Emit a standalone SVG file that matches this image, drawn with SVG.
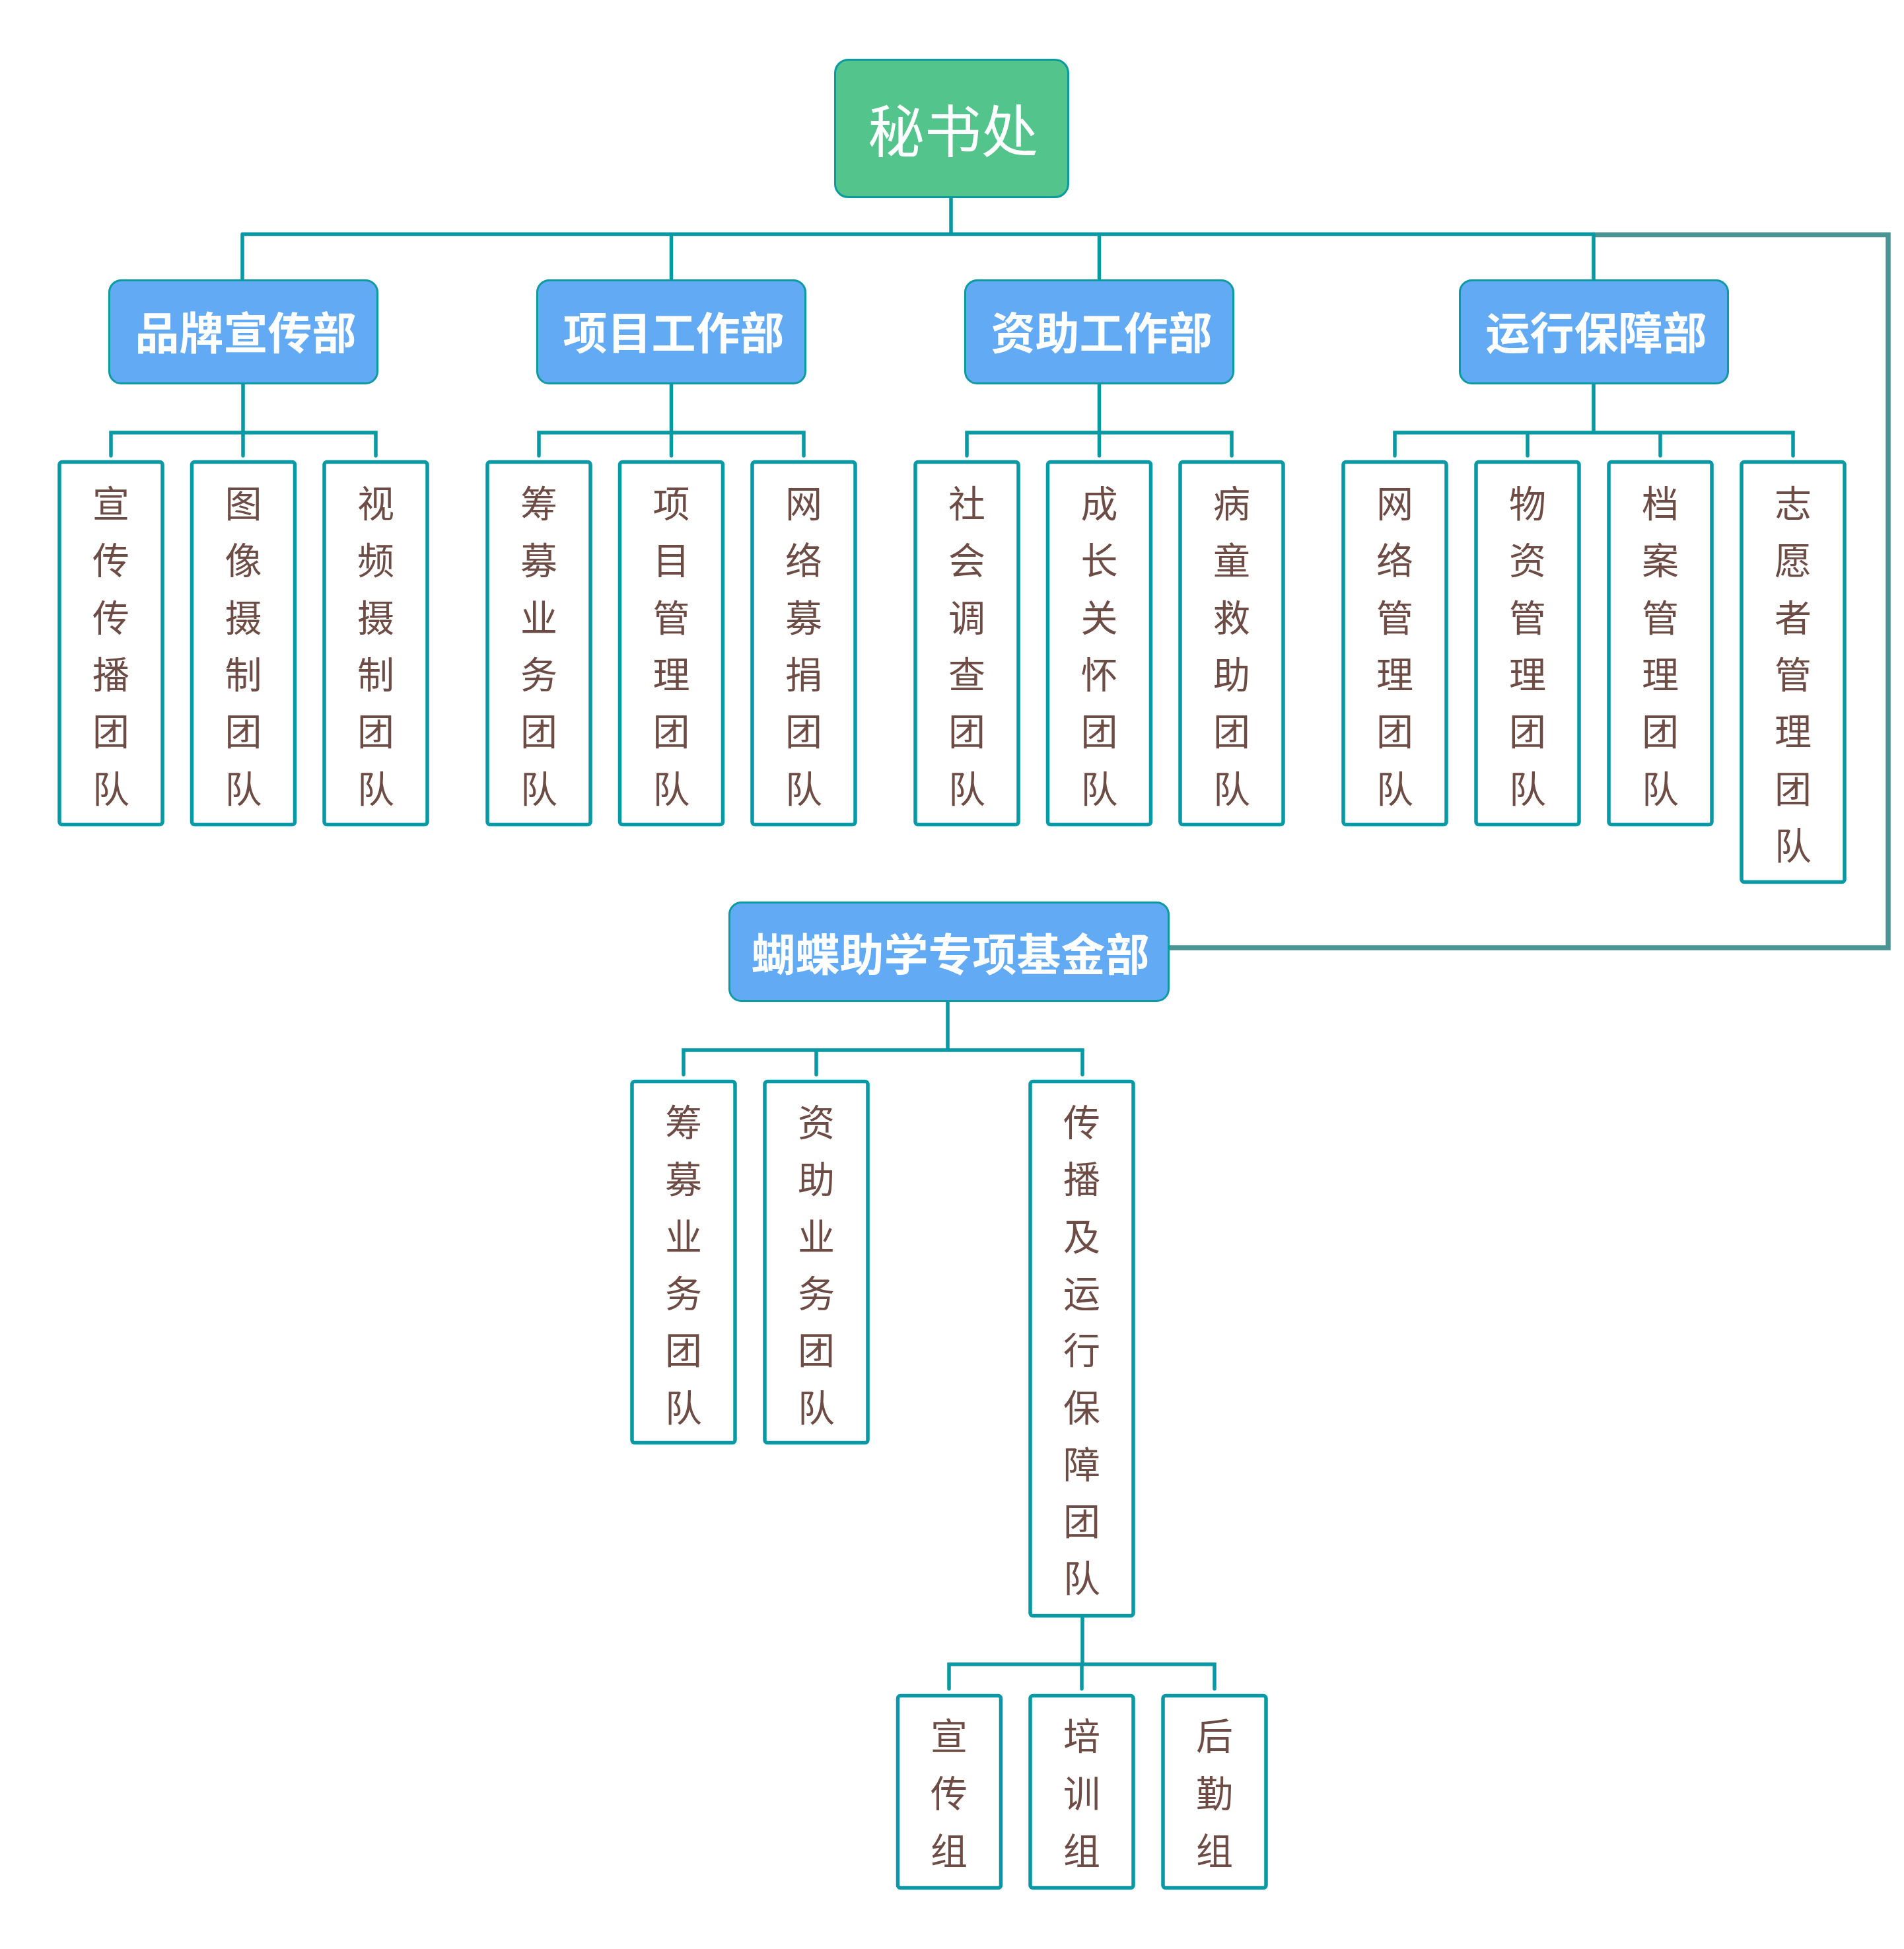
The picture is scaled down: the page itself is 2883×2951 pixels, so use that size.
<svg xmlns="http://www.w3.org/2000/svg" width="2883" height="2951" viewBox="0 0 2883 2951">
<style>
.ln{fill:none;stroke:#0899a5;stroke-width:5.5;stroke-linecap:round;stroke-linejoin:miter}
.loop{fill:none;stroke:#4a9593;stroke-width:7.5;stroke-linejoin:miter}
.root{fill:#52c48c;stroke:#0a9aa0;stroke-width:3}
.dept{fill:#63aaf5;stroke:#0a9aa0;stroke-width:3}
.team{fill:#ffffff;stroke:#0899a5;stroke-width:5.5}
.rt{font-family:"Noto Sans CJK SC","Microsoft YaHei",sans-serif;font-size:86px;fill:#ffffff;text-anchor:middle;dominant-baseline:central}
.dt{font-family:"Noto Sans CJK SC","Microsoft YaHei",sans-serif;font-size:67px;font-weight:bold;fill:#ffffff;text-anchor:middle;dominant-baseline:central}
.tt{font-family:"Noto Sans CJK SC","Microsoft YaHei",sans-serif;font-size:56px;fill:#6d4c45;text-anchor:middle;dominant-baseline:central}
</style>
<rect width="2883" height="2951" fill="#ffffff"/>
<g id="connectors">
<path class="loop" d="M2412 355.5H2859V1435H1771"/>
<path class="ln" d="M1440 300V354.5M367 354.5H2412M367 354.5V423M1016.5 354.5V423M1664.5 354.5V423M2413 354.5V423"/>
<path class="ln" d="M368 582V655M168 690V655H569V690M368 655V690"/>
<path class="ln" d="M1016.5 582V655M816 690V655H1217V690M1016.5 655V690"/>
<path class="ln" d="M1664.5 582V655M1464 690V655H1865V690M1664.5 655V690"/>
<path class="ln" d="M2413 582V655M2112 690V655H2715V690M2313 655V690M2514 655V690"/>
<path class="ln" d="M1435 1517V1590M1035 1627V1590H1639V1627M1236 1590V1627"/>
<path class="ln" d="M1639 2449V2520M1437 2557V2520H1839V2557M1638 2520V2557"/>
</g>
<g id="n-root"><rect class="root" x="1264.5" y="90.5" width="353" height="208" rx="20"/><text class="rt" x="1443" y="193">秘书处</text></g>
<g id="n-brand"><rect class="dept" x="165.5" y="424.5" width="406" height="156" rx="18"/><text class="dt" x="372" y="499">品牌宣传部</text></g>
<g id="n-project"><rect class="dept" x="813.5" y="424.5" width="406" height="156" rx="18"/><text class="dt" x="1020" y="499">项目工作部</text></g>
<g id="n-aid"><rect class="dept" x="1461.5" y="424.5" width="406" height="156" rx="18"/><text class="dt" x="1668" y="499">资助工作部</text></g>
<g id="n-ops"><rect class="dept" x="2210.5" y="424.5" width="406" height="156" rx="18"/><text class="dt" x="2417" y="499">运行保障部</text></g>

<g id="n-t1"><rect class="team" x="90" y="699.5" width="156" height="549" rx="4"/><text class="tt"><tspan x="168" y="758">宣</tspan><tspan x="168" y="844">传</tspan><tspan x="168" y="931">传</tspan><tspan x="168" y="1017">播</tspan><tspan x="168" y="1103">团</tspan><tspan x="168" y="1190">队</tspan></text></g>
<g id="n-t2"><rect class="team" x="290.5" y="699.5" width="156" height="549" rx="4"/><text class="tt"><tspan x="368.5" y="758">图</tspan><tspan x="368.5" y="844">像</tspan><tspan x="368.5" y="931">摄</tspan><tspan x="368.5" y="1017">制</tspan><tspan x="368.5" y="1103">团</tspan><tspan x="368.5" y="1190">队</tspan></text></g>
<g id="n-t3"><rect class="team" x="491" y="699.5" width="156" height="549" rx="4"/><text class="tt"><tspan x="569" y="758">视</tspan><tspan x="569" y="844">频</tspan><tspan x="569" y="931">摄</tspan><tspan x="569" y="1017">制</tspan><tspan x="569" y="1103">团</tspan><tspan x="569" y="1190">队</tspan></text></g>

<g id="n-t4"><rect class="team" x="738" y="699.5" width="156" height="549" rx="4"/><text class="tt"><tspan x="816" y="758">筹</tspan><tspan x="816" y="844">募</tspan><tspan x="816" y="931">业</tspan><tspan x="816" y="1017">务</tspan><tspan x="816" y="1103">团</tspan><tspan x="816" y="1190">队</tspan></text></g>
<g id="n-t5"><rect class="team" x="938.5" y="699.5" width="156" height="549" rx="4"/><text class="tt"><tspan x="1016.5" y="758">项</tspan><tspan x="1016.5" y="844">目</tspan><tspan x="1016.5" y="931">管</tspan><tspan x="1016.5" y="1017">理</tspan><tspan x="1016.5" y="1103">团</tspan><tspan x="1016.5" y="1190">队</tspan></text></g>
<g id="n-t6"><rect class="team" x="1139" y="699.5" width="156" height="549" rx="4"/><text class="tt"><tspan x="1217" y="758">网</tspan><tspan x="1217" y="844">络</tspan><tspan x="1217" y="931">募</tspan><tspan x="1217" y="1017">捐</tspan><tspan x="1217" y="1103">团</tspan><tspan x="1217" y="1190">队</tspan></text></g>

<g id="n-t7"><rect class="team" x="1386" y="699.5" width="156" height="549" rx="4"/><text class="tt"><tspan x="1464" y="758">社</tspan><tspan x="1464" y="844">会</tspan><tspan x="1464" y="931">调</tspan><tspan x="1464" y="1017">查</tspan><tspan x="1464" y="1103">团</tspan><tspan x="1464" y="1190">队</tspan></text></g>
<g id="n-t8"><rect class="team" x="1586.5" y="699.5" width="156" height="549" rx="4"/><text class="tt"><tspan x="1664.5" y="758">成</tspan><tspan x="1664.5" y="844">长</tspan><tspan x="1664.5" y="931">关</tspan><tspan x="1664.5" y="1017">怀</tspan><tspan x="1664.5" y="1103">团</tspan><tspan x="1664.5" y="1190">队</tspan></text></g>
<g id="n-t9"><rect class="team" x="1787" y="699.5" width="156" height="549" rx="4"/><text class="tt"><tspan x="1865" y="758">病</tspan><tspan x="1865" y="844">童</tspan><tspan x="1865" y="931">救</tspan><tspan x="1865" y="1017">助</tspan><tspan x="1865" y="1103">团</tspan><tspan x="1865" y="1190">队</tspan></text></g>

<g id="n-t10"><rect class="team" x="2034" y="699.5" width="156" height="549" rx="4"/><text class="tt"><tspan x="2112" y="758">网</tspan><tspan x="2112" y="844">络</tspan><tspan x="2112" y="931">管</tspan><tspan x="2112" y="1017">理</tspan><tspan x="2112" y="1103">团</tspan><tspan x="2112" y="1190">队</tspan></text></g>
<g id="n-t11"><rect class="team" x="2235" y="699.5" width="156" height="549" rx="4"/><text class="tt"><tspan x="2313" y="758">物</tspan><tspan x="2313" y="844">资</tspan><tspan x="2313" y="931">管</tspan><tspan x="2313" y="1017">理</tspan><tspan x="2313" y="1103">团</tspan><tspan x="2313" y="1190">队</tspan></text></g>
<g id="n-t12"><rect class="team" x="2436" y="699.5" width="156" height="549" rx="4"/><text class="tt"><tspan x="2514" y="758">档</tspan><tspan x="2514" y="844">案</tspan><tspan x="2514" y="931">管</tspan><tspan x="2514" y="1017">理</tspan><tspan x="2514" y="1103">团</tspan><tspan x="2514" y="1190">队</tspan></text></g>
<g id="n-t13"><rect class="team" x="2637" y="699.5" width="156" height="636" rx="4"/><text class="tt"><tspan x="2715" y="758">志</tspan><tspan x="2715" y="844">愿</tspan><tspan x="2715" y="931">者</tspan><tspan x="2715" y="1017">管</tspan><tspan x="2715" y="1103">理</tspan><tspan x="2715" y="1190">团</tspan><tspan x="2715" y="1276">队</tspan></text></g>

<g id="n-butterfly"><rect class="dept" x="1104.5" y="1366.5" width="665" height="149" rx="18"/><text class="dt" x="1439" y="1440">蝴蝶助学专项基金部</text></g>

<g id="n-b1"><rect class="team" x="957" y="1637.5" width="156" height="547" rx="4"/><text class="tt"><tspan x="1035" y="1695">筹</tspan><tspan x="1035" y="1781">募</tspan><tspan x="1035" y="1868">业</tspan><tspan x="1035" y="1954">务</tspan><tspan x="1035" y="2040">团</tspan><tspan x="1035" y="2127">队</tspan></text></g>
<g id="n-b2"><rect class="team" x="1158" y="1637.5" width="156" height="547" rx="4"/><text class="tt"><tspan x="1236" y="1695">资</tspan><tspan x="1236" y="1781">助</tspan><tspan x="1236" y="1868">业</tspan><tspan x="1236" y="1954">务</tspan><tspan x="1236" y="2040">团</tspan><tspan x="1236" y="2127">队</tspan></text></g>
<g id="n-b3"><rect class="team" x="1560" y="1637.5" width="156" height="809" rx="4"/><text class="tt"><tspan x="1638" y="1695">传</tspan><tspan x="1638" y="1781">播</tspan><tspan x="1638" y="1868">及</tspan><tspan x="1638" y="1954">运</tspan><tspan x="1638" y="2040">行</tspan><tspan x="1638" y="2127">保</tspan><tspan x="1638" y="2213">障</tspan><tspan x="1638" y="2299">团</tspan><tspan x="1638" y="2385">队</tspan></text></g>

<g id="n-g1"><rect class="team" x="1359.5" y="2567.5" width="156" height="291" rx="4"/><text class="tt"><tspan x="1437" y="2624">宣</tspan><tspan x="1437" y="2711">传</tspan><tspan x="1437" y="2798">组</tspan></text></g>
<g id="n-g2"><rect class="team" x="1560" y="2567.5" width="156" height="291" rx="4"/><text class="tt"><tspan x="1638" y="2624">培</tspan><tspan x="1638" y="2711">训</tspan><tspan x="1638" y="2798">组</tspan></text></g>
<g id="n-g3"><rect class="team" x="1761" y="2567.5" width="156" height="291" rx="4"/><text class="tt"><tspan x="1839" y="2624">后</tspan><tspan x="1839" y="2711">勤</tspan><tspan x="1839" y="2798">组</tspan></text></g>
</svg>
